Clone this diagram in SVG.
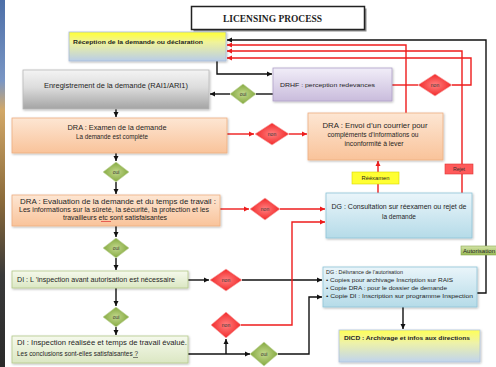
<svg xmlns="http://www.w3.org/2000/svg" width="496" height="367" viewBox="0 0 496 367">
<defs>
<linearGradient id="gStrip" x1="0" y1="0" x2="0" y2="1"><stop offset="0" stop-color="#4d6fa8"/><stop offset="0.22" stop-color="#7a96c4"/><stop offset="0.3" stop-color="#d2a868"/><stop offset="0.55" stop-color="#8a6a3a"/><stop offset="0.75" stop-color="#3a3a3a"/><stop offset="1" stop-color="#2a2a2a"/></linearGradient>
<linearGradient id="gRecv" x1="0" y1="0" x2="0" y2="1"><stop offset="0" stop-color="#ffff33"/><stop offset="0.35" stop-color="#f0f39a"/><stop offset="1" stop-color="#b9cde8"/></linearGradient>
<linearGradient id="gGray" x1="0" y1="0" x2="0" y2="1"><stop offset="0" stop-color="#f4f4f4"/><stop offset="0.45" stop-color="#dcdcdc"/><stop offset="1" stop-color="#a4a4a4"/></linearGradient>
<linearGradient id="gOrange" x1="0" y1="0" x2="0" y2="1"><stop offset="0" stop-color="#fde6d3"/><stop offset="1" stop-color="#f9c39a"/></linearGradient>
<linearGradient id="gGreen" x1="0" y1="0" x2="0" y2="1"><stop offset="0" stop-color="#f5f9ec"/><stop offset="1" stop-color="#dbe7c3"/></linearGradient>
<linearGradient id="gBlue" x1="0" y1="0" x2="0" y2="1"><stop offset="0" stop-color="#eaf5fa"/><stop offset="1" stop-color="#b5dbe8"/></linearGradient>
<linearGradient id="gLav" x1="0" y1="0" x2="0" y2="1"><stop offset="0" stop-color="#f1edf8"/><stop offset="1" stop-color="#c9bcdc"/></linearGradient>
<linearGradient id="gDicd" x1="0" y1="0" x2="0" y2="1"><stop offset="0" stop-color="#ffff55"/><stop offset="0.4" stop-color="#eef2a8"/><stop offset="1" stop-color="#c0d4ee"/></linearGradient>
<linearGradient id="gAut" x1="0" y1="0" x2="0" y2="1"><stop offset="0" stop-color="#d4e4a8"/><stop offset="1" stop-color="#98b954"/></linearGradient>
<radialGradient id="gOui"><stop offset="0" stop-color="#c4d98e"/><stop offset="1" stop-color="#84a940"/></radialGradient>
<radialGradient id="gNon"><stop offset="0" stop-color="#ff8080"/><stop offset="1" stop-color="#f22a2a"/></radialGradient>
<filter id="sh" x="-10%" y="-20%" width="120%" height="140%"><feDropShadow dx="0.8" dy="1" stdDeviation="0.9" flood-color="#000" flood-opacity="0.28"/></filter>
<marker id="aK" markerWidth="6" markerHeight="6" refX="5" refY="3" orient="auto" markerUnits="userSpaceOnUse"><path d="M0,0.5 L5,3 L0,5.5 Z" fill="#111"/></marker>
<marker id="aR" markerWidth="6" markerHeight="6" refX="5" refY="3" orient="auto" markerUnits="userSpaceOnUse"><path d="M0,0.5 L5,3 L0,5.5 Z" fill="#ee1c1c"/></marker>
</defs>
<style>
text{font-family:"Liberation Sans",Arial,sans-serif;fill:#1e1e1e;}
.t{font-size:6.5px;}
.s{font-size:5.8px;}
.b{font-weight:bold;}
.d{font-size:5px;text-anchor:middle;fill:#333;}
.m{text-anchor:middle;}
.k{fill:none;stroke:#111;stroke-width:1.4;}
.r{fill:none;stroke:#ee1c1c;stroke-width:1.4;}
.ak{marker-end:url(#aK);}
.ar{marker-end:url(#aR);}
.box{filter:url(#sh);stroke-width:0.8;}
</style>
<rect x="0" y="0" width="496" height="367" fill="#ffffff"/>
<rect x="0" y="0" width="5" height="367" fill="url(#gStrip)"/>

<g id="title">
<rect x="193.5" y="8.5" width="173" height="23" fill="#8c8c8c"/>
<rect x="191.5" y="6.5" width="173" height="23" fill="#ffffff" stroke="#222" stroke-width="1.5"/>
<text x="272.5" y="21.5" class="m" style="font-family:'Liberation Serif','Times New Roman',serif;font-weight:bold;font-size:9.5px" textLength="99" lengthAdjust="spacingAndGlyphs">LICENSING PROCESS</text>
</g>

<g id="connectors">
<!-- black -->
<polyline class="k ak" points="217,61 217,74 272,74"/>
<line class="k" x1="273" y1="94" x2="256" y2="94"/>
<line class="k ak" x1="230" y1="94" x2="210" y2="94"/>
<line class="k ak" x1="116" y1="109" x2="116" y2="117"/>
<line class="k ak" x1="116" y1="153" x2="116" y2="161"/>
<line class="k ak" x1="116" y1="182" x2="116" y2="194"/>
<line class="k ak" x1="116" y1="226" x2="116" y2="237"/>
<line class="k ak" x1="116" y1="258" x2="116" y2="270"/>
<line class="k ak" x1="116" y1="288" x2="116" y2="306"/>
<line class="k ak" x1="116" y1="327" x2="116" y2="335"/>
<line class="k ak" x1="188" y1="280" x2="209" y2="280"/>
<line class="k ak" x1="242" y1="280" x2="322" y2="280"/>
<line class="k ak" x1="188" y1="354" x2="250" y2="354"/>
<line class="k ak" x1="226" y1="354" x2="226" y2="339"/>
<polyline class="k ak" points="278,354 309,354 309,297 322,297"/>
<line class="k ak" x1="403" y1="307" x2="403" y2="329"/>
<polyline class="k ak" points="477,293 486,293 486,40 227,40"/>
<!-- red -->
<line class="r ar" x1="227" y1="134" x2="254" y2="134"/>
<line class="r ar" x1="289" y1="134" x2="307" y2="134"/>
<line class="r ar" x1="220" y1="209" x2="249" y2="209"/>
<line class="r ar" x1="280" y1="209" x2="325" y2="209"/>
<polyline class="r ar" points="241,325 292,325 292,222 325,222"/>
<line class="r ar" x1="378" y1="193" x2="378" y2="161"/>
<polyline class="r ar" points="406,113 406,45 227,45"/>
<polyline class="r ar" points="462,193 462,51 227,51"/>
<polyline class="r" points="392,85 418,85"/>
<polyline class="r ar" points="452,85 471,85 471,58 227,58"/>
</g>

<g id="lbl-reexamen">
<rect x="352" y="172" width="47" height="12" fill="#ffff33" stroke="#d8d800" stroke-width="0.6"/>
<text x="375.5" y="180.3" class="s m">Rééxamen</text>
</g>
<g id="lbl-rejet">
<rect x="445" y="164" width="28" height="10" fill="#ff5a5a" stroke="#d33" stroke-width="0.6"/>
<text x="459" y="171.2" class="d" style="font-size:5.2px">Rejet</text>
</g>
<g id="lbl-autorisation">
<rect x="461" y="246" width="36" height="9" fill="url(#gAut)" stroke="#8aa850" stroke-width="0.6"/>
<text x="463" y="252.6" style="font-size:5px" textLength="32" lengthAdjust="spacingAndGlyphs">Autorisation</text>
</g>

<g id="n-reception">
<rect class="box" x="69" y="32" width="157" height="29" fill="url(#gRecv)" stroke="#a8bcd8"/>
<text x="73" y="44" class="s b" textLength="130" lengthAdjust="spacingAndGlyphs">Réception de la demande ou déclaration</text>
</g>
<g id="n-enregistrement">
<rect class="box" x="23" y="70" width="186" height="39" fill="url(#gGray)" stroke="#b8b8b8"/>
<text x="116" y="87.5" class="t m" textLength="144" lengthAdjust="spacingAndGlyphs">Enregistrement de la demande (RAI1/ARI1)</text>
</g>
<g id="n-drhf">
<rect class="box" x="273" y="68" width="119" height="33" fill="url(#gLav)" stroke="#b0a0c8"/>
<text x="280" y="87" class="s" textLength="95" lengthAdjust="spacingAndGlyphs">DRHF : perception redevances</text>
</g>
<g id="n-dra-examen">
<rect class="box" x="12" y="118" width="215" height="35" fill="url(#gOrange)" stroke="#eeae80"/>
<text x="117" y="129.5" class="t m" textLength="99" lengthAdjust="spacingAndGlyphs">DRA : Examen de la demande</text>
<text x="112" y="138.5" class="t m" textLength="72" lengthAdjust="spacingAndGlyphs">La demande  est complète</text>
</g>
<g id="n-dra-envoi">
<rect class="box" x="308" y="113" width="135" height="47" fill="url(#gOrange)" stroke="#eeae80"/>
<text x="375" y="128" class="t m" textLength="105" lengthAdjust="spacingAndGlyphs">DRA : Envoi d’un courrier pour</text>
<text x="373" y="137" class="t m" textLength="91" lengthAdjust="spacingAndGlyphs">compléments d’informations ou</text>
<text x="374" y="146" class="t m" textLength="59" lengthAdjust="spacingAndGlyphs">inconformité à lever</text>
</g>
<g id="n-dra-evaluation">
<rect class="box" x="12" y="195" width="208" height="31" fill="url(#gOrange)" stroke="#eeae80"/>
<text x="118" y="204" class="t m" textLength="196" lengthAdjust="spacingAndGlyphs">DRA : Evaluation de la demande et du temps de travail :</text>
<text x="114" y="212" class="t m" textLength="190" lengthAdjust="spacingAndGlyphs">Les informations sur la sûreté, la sécurité, la protection et les</text>
<text x="115" y="220" class="t m" textLength="104" lengthAdjust="spacingAndGlyphs">travailleurs etc sont satisfaisantes</text>
<line x1="101" y1="221.5" x2="111" y2="221.5" stroke="#e03030" stroke-width="0.7"/>
</g>
<g id="n-dg-consultation">
<rect class="box" x="326" y="193" width="146" height="45" fill="url(#gBlue)" stroke="#8ec4d8"/>
<text x="399" y="209" class="t m" textLength="135" lengthAdjust="spacingAndGlyphs">DG : Consultation sur réexamen ou rejet de</text>
<text x="399" y="219" class="t m">la demande</text>
</g>
<g id="n-di-inspection">
<rect class="box" x="12" y="271" width="176" height="17" fill="url(#gGreen)" stroke="#b3c98b"/>
<text x="17" y="281.5" class="t" textLength="158" lengthAdjust="spacingAndGlyphs">DI : L ’inspection avant autorisation  est nécessaire</text>
</g>
<g id="n-di-realisee">
<rect class="box" x="12" y="336" width="176" height="27" fill="url(#gGreen)" stroke="#b3c98b"/>
<text x="17" y="345" class="t" textLength="170" lengthAdjust="spacingAndGlyphs">DI : Inspection réalisée et temps de travail évalué.</text>
<text x="17" y="356" class="t" textLength="121" lengthAdjust="spacingAndGlyphs">Les conclusions sont-elles satisfaisantes  ?</text>
<line x1="133" y1="357.5" x2="138" y2="357.5" stroke="#333" stroke-width="0.6"/>
</g>
<g id="n-dg-delivrance">
<rect class="box" x="323" y="267" width="154" height="40" fill="url(#gBlue)" stroke="#8ec4d8"/>
<text x="326" y="274" class="s" textLength="77" lengthAdjust="spacingAndGlyphs">DG : Délivrance de l’autorisation</text>
<text x="326" y="282" class="s" textLength="127" lengthAdjust="spacingAndGlyphs">• Copies pour archivage Inscription sur RAIS</text>
<text x="326" y="290" class="s" textLength="121" lengthAdjust="spacingAndGlyphs">• Copie DRA : pour le dossier de demande</text>
<text x="326" y="298" class="s" textLength="147" lengthAdjust="spacingAndGlyphs">• Copie DI : Inscription sur programme Inspection</text>
</g>
<g id="n-dicd">
<rect class="box" x="339" y="330" width="141" height="32" fill="url(#gDicd)" stroke="#b0c4dc"/>
<text x="344" y="339.5" class="s b" textLength="126" lengthAdjust="spacingAndGlyphs">DICD : Archivage et infos aux directions</text>
</g>

<g id="d-oui1"><polygon points="243,84 256,94 243,104 230,94" fill="url(#gOui)" stroke="#c8d8a8" stroke-width="0.6"/><text x="243" y="95.8" class="d">oui</text></g>
<g id="d-oui2"><polygon points="116,162 129,172 116,182 103,172" fill="url(#gOui)" stroke="#c8d8a8" stroke-width="0.6"/><text x="116" y="173.8" class="d">oui</text></g>
<g id="d-oui3"><polygon points="116,238 129,248 116,258 103,248" fill="url(#gOui)" stroke="#c8d8a8" stroke-width="0.6"/><text x="116" y="249.8" class="d">oui</text></g>
<g id="d-oui4"><polygon points="116,307 129,317 116,327 103,317" fill="url(#gOui)" stroke="#c8d8a8" stroke-width="0.6"/><text x="116" y="318.8" class="d">oui</text></g>
<g id="d-oui5"><polygon points="264,342 278,354 264,366 250,354" fill="url(#gOui)" stroke="#c8d8a8" stroke-width="0.6"/><text x="264" y="355.8" class="d">oui</text></g>
<g id="d-non1"><polygon points="435,74 452,85 435,96 418,85" fill="url(#gNon)" stroke="#f6b0b0" stroke-width="0.6"/><text x="435" y="86.8" class="d">non</text></g>
<g id="d-non2"><polygon points="272,123 289,134 272,145 255,134" fill="url(#gNon)" stroke="#f6b0b0" stroke-width="0.6"/><text x="272" y="135.8" class="d">non</text></g>
<g id="d-non3"><polygon points="265,198 280,209 265,220 250,209" fill="url(#gNon)" stroke="#f6b0b0" stroke-width="0.6"/><text x="265" y="210.8" class="d">non</text></g>
<g id="d-non4"><polygon points="226,269 242,280 226,291 210,280" fill="url(#gNon)" stroke="#f6b0b0" stroke-width="0.6"/><text x="226" y="281.8" class="d">non</text></g>
<g id="d-non5"><polygon points="226,312 241,325 226,338 211,325" fill="url(#gNon)" stroke="#f6b0b0" stroke-width="0.6"/><text x="226" y="326.8" class="d">non</text></g>
</svg>
